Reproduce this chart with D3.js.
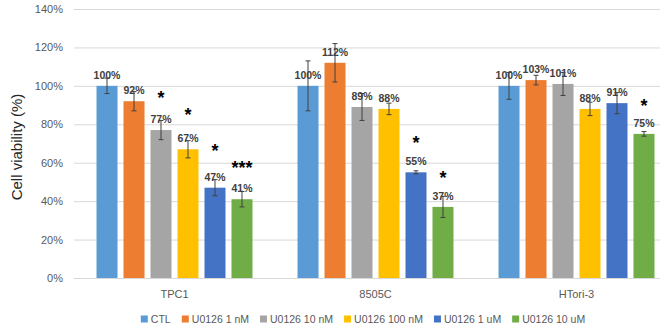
<!DOCTYPE html>
<html>
<head>
<meta charset="utf-8">
<script src="https://cdn.jsdelivr.net/npm/d3@7"></script>
<style>
  body { margin: 0; background: #fff; }
  svg { display: block; font-family: "Liberation Sans", Arial, sans-serif; }
</style>
</head>
<body>
<svg id="chart"></svg>
<script>
const groups = ["TPC1", "8505C", "HTori-3"];
const seriesNames = ["CTL", "U0126 1 nM", "U0126 10 nM", "U0126 100 nM", "U0126 1 uM", "U0126 10 uM"];
const seriesColors = ["#5B9BD5", "#ED7D31", "#A5A5A5", "#FFC000", "#4472C4", "#70AD47"];

// mean viability (%) per group, one array per cell line
const tpc1Values = [100, 92, 77, 67, 47, 41];
const c8505Values = [100, 112, 89, 88, 55, 37];
const htoriValues = [100, 103, 101, 88, 91, 75];

// error (+/- %) per group
const tpc1Errors = [4, 5, 5, 4.5, 4.2, 4];
const c8505Errors = [13, 10, 7, 3, 0.8, 5.5];
const htoriErrors = [7, 2.5, 6, 3.5, 5.5, 1.2];

// significance marks: [group, series index, marker, level in %]
const sigMarks = [
  ["TPC1", 2, "*", 95.5],
  ["TPC1", 3, "*", 86.5],
  ["TPC1", 4, "*", 67.5],
  ["TPC1", 5, "***", 59],
  ["8505C", 4, "*", 72],
  ["8505C", 5, "*", 53.5],
  ["HTori-3", 5, "*", 91]
];

const yTicks = [0, 20, 40, 60, 80, 100, 120, 140];

const valuesByGroup = [tpc1Values, c8505Values, htoriValues];
const errorsByGroup = [tpc1Errors, c8505Errors, htoriErrors];

const data = [];
groups.forEach((g, gi) => {
  seriesNames.forEach((s, si) => {
    data.push({ group: g, series: s, index: si, value: valuesByGroup[gi][si], err: errorsByGroup[gi][si] });
  });
});

const width = 660;
const height = 332;
const margin = { top: 9, right: -17, bottom: 54, left: 74 };

const svg = d3.select("#chart").attr("width", width).attr("height", height);

const x0 = d3
  .scaleBand()
  .domain(groups)
  .range([margin.left, width - margin.right])
  .paddingInner(0.224)
  .paddingOuter(0.112);

const x1 = d3
  .scaleBand()
  .domain(seriesNames)
  .range([0, x0.bandwidth()])
  .paddingInner(0.222);

const y = d3
  .scaleLinear()
  .domain([0, 140])
  .range([height - margin.bottom, margin.top]);

const color = d3.scaleOrdinal().domain(seriesNames).range(seriesColors);

// gridlines + y labels
const yAxis = svg
  .append("g")
  .attr("transform", `translate(${margin.left},0)`)
  .call(
    d3
      .axisLeft(y)
      .tickValues(yTicks)
      .tickFormat((d) => d + "%")
      .tickSize(-(width - margin.left))
      .tickPadding(11)
  );
yAxis.select(".domain").remove();
yAxis.selectAll(".tick line").attr("stroke", "#d9d9d9").attr("stroke-width", 1);
yAxis
  .selectAll(".tick text")
  .attr("fill", "#595959")
  .style("font-size", "11px")
  .style("font-family", "Liberation Sans, Arial, sans-serif");

// x category labels
const xAxis = svg
  .append("g")
  .attr("transform", `translate(0, ${height - margin.bottom})`)
  .call(d3.axisBottom(x0).tickSize(0).tickPadding(12));
xAxis.select(".domain").remove();
xAxis
  .selectAll(".tick text")
  .attr("fill", "#595959")
  .style("font-size", "11px")
  .style("font-family", "Liberation Sans, Arial, sans-serif");

// bars
const bars = svg
  .append("g")
  .selectAll("g")
  .data(data)
  .join("g")
  .attr("transform", (d) => `translate(${x0(d.group) + x1(d.series)},0)`);

bars
  .append("rect")
  .attr("x", 0)
  .attr("y", (d) => y(d.value))
  .attr("width", x1.bandwidth())
  .attr("height", (d) => y(0) - y(d.value))
  .attr("fill", (d) => color(d.series));

// value labels
bars
  .append("text")
  .attr("x", x1.bandwidth() / 2)
  .attr("y", (d) => y(d.value) - 7)
  .attr("text-anchor", "middle")
  .attr("fill", "#404040")
  .style("font-size", "10.5px")
  .style("font-weight", "bold")
  .text((d) => d.value + "%");

// error bars
const cap = 2.5;
const eb = bars.append("g").attr("stroke", "#404040").attr("stroke-width", 1);
eb.append("line")
  .attr("x1", x1.bandwidth() / 2)
  .attr("x2", x1.bandwidth() / 2)
  .attr("y1", (d) => y(d.value + d.err))
  .attr("y2", (d) => y(d.value - d.err));
eb.append("line")
  .attr("x1", x1.bandwidth() / 2 - cap)
  .attr("x2", x1.bandwidth() / 2 + cap)
  .attr("y1", (d) => y(d.value + d.err))
  .attr("y2", (d) => y(d.value + d.err));
eb.append("line")
  .attr("x1", x1.bandwidth() / 2 - cap)
  .attr("x2", x1.bandwidth() / 2 + cap)
  .attr("y1", (d) => y(d.value - d.err))
  .attr("y2", (d) => y(d.value - d.err));

// significance asterisks
svg
  .append("g")
  .selectAll("text")
  .data(sigMarks)
  .join("text")
  .attr("x", (d) => x0(d[0]) + x1(seriesNames[d[1]]) + x1.bandwidth() / 2)
  .attr("y", (d) => y(d[3]) + 9)
  .attr("text-anchor", "middle")
  .attr("fill", "#000")
  .style("font-size", "18px")
  .style("font-weight", "bold")
  .text((d) => d[2]);

// y axis title
svg
  .append("text")
  .attr("transform", `translate(22, 147) rotate(-90)`)
  .attr("text-anchor", "middle")
  .attr("fill", "#262626")
  .style("font-size", "15px")
  .text("Cell viability (%)");

// legend
const legend = svg.append("g").attr("transform", `translate(0, 319)`);
const items = legend
  .selectAll("g")
  .data(seriesNames)
  .join("g");
items
  .append("rect")
  .attr("y", -3.5)
  .attr("width", 7)
  .attr("height", 7)
  .attr("fill", (d) => color(d));
items
  .append("text")
  .attr("x", 10)
  .attr("y", 4)
  .attr("fill", "#595959")
  .style("font-size", "10.5px")
  .text((d) => d);

let offset = 0;
const itemGap = 11;
const positions = [];
items.each(function () {
  positions.push(offset);
  offset += this.getBBox().width + itemGap;
});
const totalWidth = offset - itemGap;
const startX = 363 - totalWidth / 2;
items.attr("transform", (d, i) => `translate(${startX + positions[i]},0)`);
</script>
</body>
</html>
